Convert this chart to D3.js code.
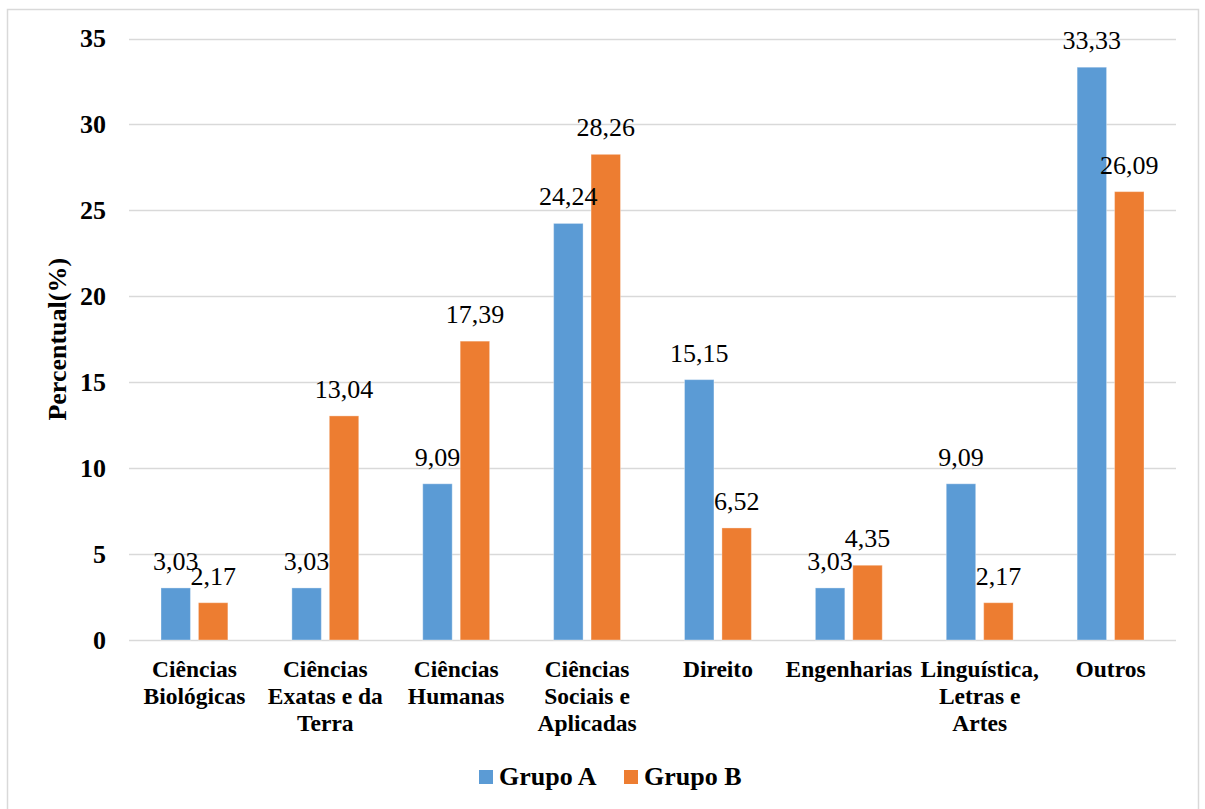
<!DOCTYPE html>
<html>
<head>
<meta charset="utf-8">
<script src="https://cdn.jsdelivr.net/npm/d3@7"></script>
<style>
  html, body { margin: 0; padding: 0; background: #fff; }
  svg { display: block; }
  text { font-family: "Liberation Serif", "Times New Roman", serif; fill: #000; }
</style>
</head>
<body>
<svg id="chart" width="1205" height="809"></svg>
<script>
// Área de conhecimento (quebras de linha como no rótulo do eixo)
const categories = [
  "Ciências\nBiológicas",
  "Ciências\nExatas e da\nTerra",
  "Ciências\nHumanas",
  "Ciências\nSociais e\nAplicadas",
  "Direito",
  "Engenharias",
  "Linguística,\nLetras e\nArtes",
  "Outros"
];
const seriesNames = ["Grupo A", "Grupo B"];
const grupoA = [3.03, 3.03, 9.09, 24.24, 15.15, 3.03, 9.09, 33.33];
const grupoB = [2.17, 13.04, 17.39, 28.26, 6.52, 4.35, 2.17, 26.09];
const yTicks = [0, 5, 10, 15, 20, 25, 30, 35];
const yTitle = "Percentual(%)";
const colors = ["#5B9BD5", "#ED7D31"];

const svg = d3.select("#chart");
const W = 1205, H = 809;
const plot = { left: 129, right: 1176, top: 38.5, bottom: 640 };

// moldura externa
svg.append("rect")
  .attr("x", 7.5).attr("y", 9.5)
  .attr("width", 1191).attr("height", 808)
  .attr("fill", "none").attr("stroke", "#D9D9D9").attr("stroke-width", 1.5);

const x0 = d3.scaleBand()
  .domain(d3.range(categories.length))
  .range([plot.left, plot.right])
  .paddingInner(0.489).paddingOuter(0.2445);

const x1 = d3.scaleBand()
  .domain(seriesNames)
  .range([0, x0.bandwidth()])
  .paddingInner(0.213).paddingOuter(0);

const y = d3.scaleLinear().domain([0, 35]).range([plot.bottom, plot.top]);

// linhas de grade
svg.append("g")
  .selectAll("line")
  .data(yTicks)
  .join("line")
  .attr("x1", plot.left).attr("x2", plot.right)
  .attr("y1", d => Math.round(y(d)) + 0.5).attr("y2", d => Math.round(y(d)) + 0.5)
  .attr("stroke", "#D9D9D9").attr("stroke-width", 1.5);

// eixo y
const yAxis = d3.axisLeft(y).tickValues(yTicks).tickSize(0).tickPadding(23).tickFormat(d3.format("d"));
const gy = svg.append("g").attr("transform", `translate(${plot.left},0)`).call(yAxis);
gy.select(".domain").remove();
gy.selectAll("text")
  .attr("font-family", "Liberation Serif, Times New Roman, serif")
  .attr("font-size", 26).attr("font-weight", "bold").attr("fill", "#000");

// título do eixo y
svg.append("text")
  .attr("transform", `translate(66,${(plot.top + plot.bottom) / 2}) rotate(-90)`)
  .attr("text-anchor", "middle")
  .attr("font-size", 26).attr("font-weight", "bold")
  .text(yTitle);

// barras
const rows = categories.map((c, i) => ({ i, values: [grupoA[i], grupoB[i]] }));
const groups = svg.append("g").selectAll("g")
  .data(rows)
  .join("g")
  .attr("transform", d => `translate(${x0(d.i)},0)`);

groups.selectAll("rect")
  .data(d => d.values.map((v, k) => ({ key: seriesNames[k], v, k })))
  .join("rect")
  .attr("x", d => x1(d.key))
  .attr("width", x1.bandwidth())
  .attr("y", d => y(d.v))
  .attr("height", d => y(0) - y(d.v))
  .attr("fill", d => colors[d.k])
  .attr("stroke", "#ffffff").attr("stroke-opacity", 0.35).attr("stroke-width", 1);

// rótulos de dados
const fmt = v => d3.format(".2f")(v).replace(".", ",");
groups.selectAll("text.val")
  .data(d => d.values.map((v, k) => ({ key: seriesNames[k], v, k })))
  .join("text")
  .attr("class", "val")
  .attr("x", d => x1(d.key) + x1.bandwidth() / 2)
  .attr("y", d => y(d.v) - 18)
  .attr("text-anchor", "middle")
  .attr("font-size", 26)
  .text(d => fmt(d.v));

// rótulos das categorias
const catG = svg.append("g");
categories.forEach((c, i) => {
  const t = catG.append("text")
    .attr("x", x0(i) + x0.bandwidth() / 2)
    .attr("y", 677)
    .attr("text-anchor", "middle")
    .attr("font-size", 23.5).attr("font-weight", "bold");
  c.split("\n").forEach((line, j) => {
    t.append("tspan")
      .attr("x", x0(i) + x0.bandwidth() / 2)
      .attr("dy", j === 0 ? 0 : 27)
      .text(line);
  });
});

// legenda
const legendX = [479, 624];
const lg = svg.append("g");
seriesNames.forEach((s, k) => {
  lg.append("rect")
    .attr("x", legendX[k]).attr("y", 770)
    .attr("width", 14).attr("height", 14)
    .attr("fill", colors[k]);
  lg.append("text")
    .attr("x", legendX[k] + 20).attr("y", 785)
    .attr("font-size", 26).attr("font-weight", "bold")
    .text(s);
});
</script>
</body>
</html>
